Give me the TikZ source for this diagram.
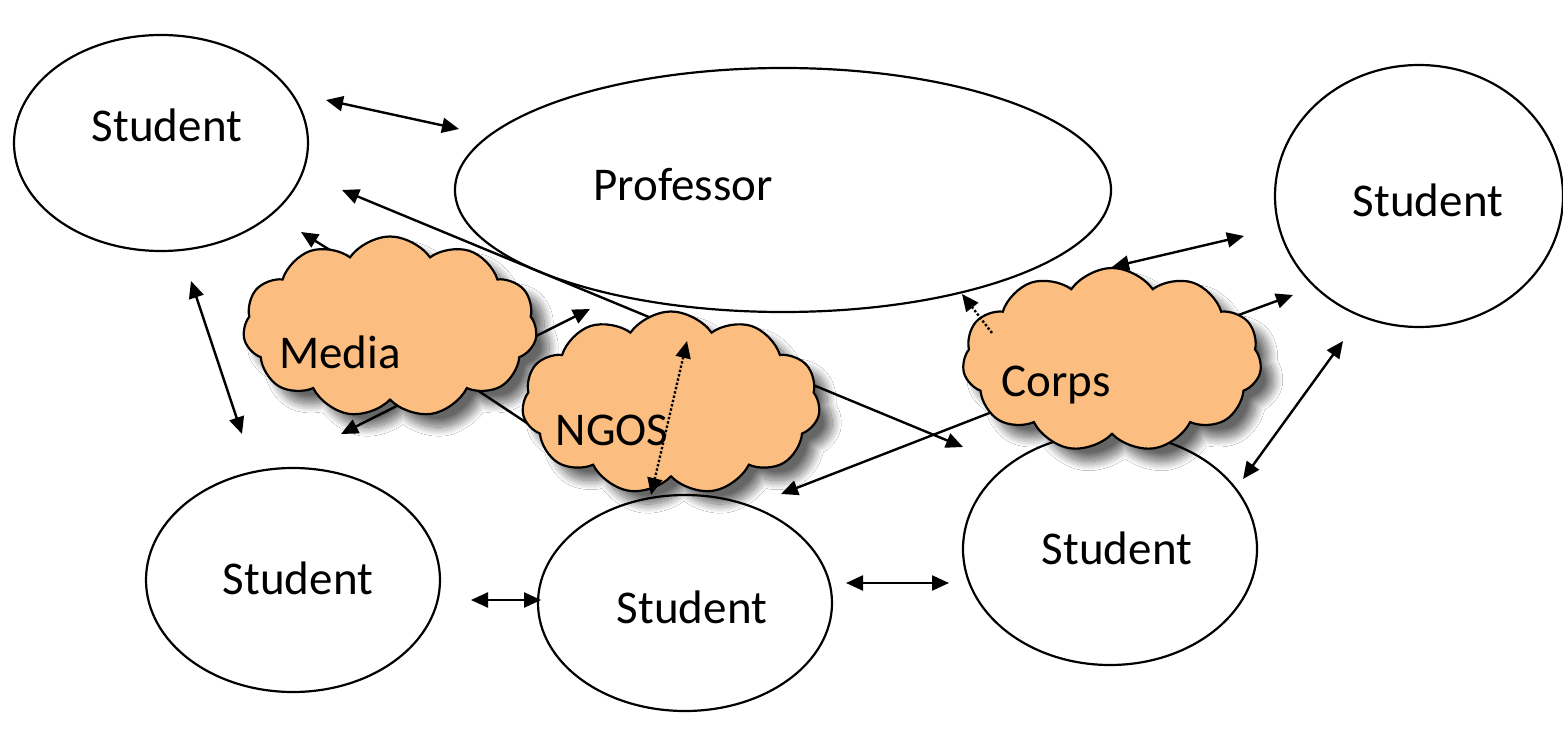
\documentclass[tikz,border=0pt]{standalone}
\usepackage{fontspec}
\setmainfont{Carlito}
\usetikzlibrary{shapes.geometric,shapes.symbols,arrows.meta,shadows.blur}
\definecolor{cloudfill}{RGB}{252,190,128}
\begin{document}
\begin{tikzpicture}[x=1pt,y=-1pt,
  stud/.style={draw, ellipse, line width=2.2pt, inner sep=0pt},
  lbl/.style={font=\fontsize{47}{55}\selectfont, inner sep=0pt, anchor=center},
  both/.style={line width=2.4pt, {Triangle[length=17pt,width=15pt]}-{Triangle[length=17pt,width=15pt]}},
  one/.style={line width=2.4pt, -{Triangle[length=17pt,width=15pt]}},
  dotboth/.style={line width=2.4pt, dotted, {Triangle[length=17pt,width=15pt]}-{Triangle[length=17pt,width=15pt]}},
  dotone/.style={line width=2.4pt, dotted, -{Triangle[length=17pt,width=15pt]}},
  cloudbox/.style={cloud, cloud puffs=11, cloud puff arc=110, draw, line width=2.2pt,
    fill=cloudfill, inner sep=0pt,
    blur shadow={shadow xshift=13pt, shadow yshift=-13pt, shadow blur radius=9pt, shadow blur steps=18, shadow opacity=60}}]
\useasboundingbox (0,0) rectangle (1563,735);
\fill[white] (0,0) rectangle (1563,735);

% ellipses
\node[stud, minimum width=294pt, minimum height=216pt] (stl) at (161,143) {};
\node[stud, minimum width=656pt, minimum height=244pt] (prof) at (783,190) {};
\node[stud, minimum width=288pt, minimum height=262pt] (str) at (1419,196) {};
\node[stud, minimum width=294pt, minimum height=224pt] (sbl) at (293,580) {};
\node[stud, minimum width=294pt, minimum height=216pt] (sbc) at (685,603) {};
\node[stud, minimum width=294pt, minimum height=232pt] (sbr) at (1110,549) {};

\node[lbl] (tstl) at (167,125) {Student};
\node[lbl] (tprof) at (683,185) {Professor};
\node[lbl] (tstr) at (1428,200) {Student};
\node[lbl] (tsbl) at (298,578) {Student};
\node[lbl] (tsbc) at (692,607) {Student};
\node[lbl] (tsbr) at (1117,548) {Student};

% connector end points
\coordinate (a1) at (326,100); \coordinate (a2) at (459,129);
\coordinate (b1) at (342,190); \coordinate (b2) at (963,447);
\coordinate (c1) at (362,270); \coordinate (c2) at (301,232);
\coordinate (d1) at (191,281); \coordinate (d2) at (242,434);
\coordinate (e1) at (341,434); \coordinate (e2) at (590,309);
\coordinate (f1) at (450,372); \coordinate (f2) at (560,445);
\coordinate (g1) at (1112,267); \coordinate (g2) at (1244,236);
\coordinate (h1) at (1225,320); \coordinate (h2) at (1293,295);
\coordinate (i1) at (1010,405); \coordinate (i2) at (781,494);
\coordinate (j1) at (1243,479); \coordinate (j2) at (1343,341);
\coordinate (k1) at (471,600); \coordinate (k2) at (541,600);
\coordinate (l1) at (846,583); \coordinate (l2) at (949,583);
\coordinate (m1) at (687,341); \coordinate (m2) at (651,495);
\coordinate (n1) at (992,333); \coordinate (n2) at (962,294);

\draw[both] (a1) -- (a2);
\draw[both] (b1) -- (b2);
\draw[one] (c1) -- (c2);
\draw[both] (d1) -- (d2);
\draw[both] (e1) -- (e2);
\draw[line width=2.4pt] (f1) -- (f2);
\draw[both] (g1) -- (g2);
\draw[one] (h1) -- (h2);
\draw[one] (i1) -- (i2);
\draw[both] (j1) -- (j2);
\draw[both] (k1) -- (k2);
\draw[both] (l1) -- (l2);

% clouds
\node[cloudbox, minimum width=294pt, minimum height=181pt] (media) at (390,327) {};
\node[cloudbox, minimum width=298pt, minimum height=183pt] (ngos) at (671,403) {};
\node[cloudbox, minimum width=299pt, minimum height=184pt] (corps) at (1112,360) {};

\node[lbl] (tmedia) at (340,352) {Media};
\node[lbl] (tngos) at (612,430) {NGOS};
\node[lbl] (tcorps) at (1056,385) {Corps};

\draw[dotboth] (m1) -- (m2);
\draw[dotone] (n1) -- (n2);
\end{tikzpicture}
\end{document}
